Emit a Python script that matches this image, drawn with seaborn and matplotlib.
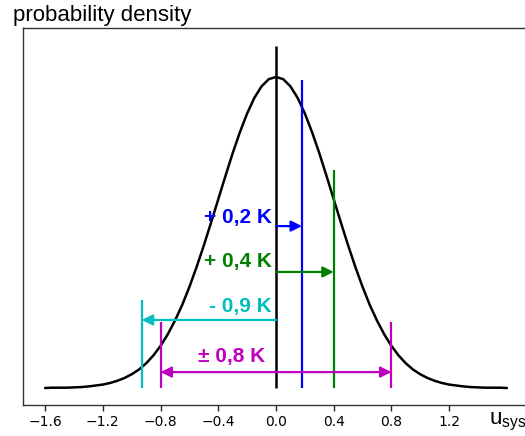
import numpy as np
import seaborn as sns
import matplotlib
matplotlib.use('Agg')
import matplotlib.pyplot as plt

# curve (sigma ~0.4 K), step 0.05
u = [-1.60, -1.55, -1.50, -1.45, -1.40, -1.35, -1.30, -1.25, -1.20, -1.15, -1.10,
     -1.05, -1.00, -0.95, -0.90, -0.85, -0.80, -0.75, -0.70, -0.65, -0.60, -0.55,
     -0.50, -0.45, -0.40, -0.35, -0.30, -0.25, -0.20, -0.15, -0.10, -0.05, 0.00,
     0.05, 0.10, 0.15, 0.20, 0.25, 0.30, 0.35, 0.40, 0.45, 0.50, 0.55, 0.60,
     0.65, 0.70, 0.75, 0.80, 0.85, 0.90, 0.95, 1.00, 1.05, 1.10, 1.15, 1.20,
     1.25, 1.30, 1.35, 1.40, 1.45, 1.50, 1.55, 1.60]
density = [0.000, 0.001, 0.001, 0.001, 0.002, 0.003, 0.005, 0.008, 0.011, 0.016, 0.023,
           0.032, 0.044, 0.059, 0.079, 0.104, 0.135, 0.172, 0.216, 0.266, 0.324, 0.388,
           0.457, 0.530, 0.605, 0.680, 0.753, 0.820, 0.880, 0.930, 0.967, 0.990, 0.997,
           0.990, 0.967, 0.930, 0.880, 0.820, 0.753, 0.680, 0.605, 0.530, 0.457, 0.388,
           0.324, 0.266, 0.216, 0.172, 0.135, 0.104, 0.079, 0.059, 0.044, 0.032, 0.023,
           0.016, 0.011, 0.008, 0.005, 0.003, 0.002, 0.001, 0.001, 0.001, 0.000]

# shifts and their markers
labels = ['+ 0,2 K', '+ 0,4 K', '- 0,9 K', '\u00b1 0,8 K']
shifts = [0.18, 0.40, -0.93, 0.80]
colors = ['#0000ff', '#008000', '#00bfbf', '#bf00bf']
line_tops = [0.987, 0.699, 0.282, 0.212]
arrow_y = [0.519, 0.372, 0.218, 0.051]
label_y = [0.548, 0.404, 0.260, 0.100]
ticks = [-1.6, -1.2, -0.8, -0.4, 0.0, 0.4, 0.8, 1.2]

sns.set_style('ticks')
plt.rcParams['mathtext.fontset'] = 'custom'
plt.rcParams['mathtext.rm'] = 'Liberation Sans'

fig = plt.figure(figsize=(5.25, 4.36), dpi=100)
ax = fig.add_axes([23 / 525, 31 / 436, 537 / 525, 377 / 436])

sns.lineplot(x=u, y=density, color='black', lw=1.8, ax=ax)
ax.vlines(0, 0, 1.096, color='black', lw=1.8)

for lab, s, c, top, ay, ly in zip(labels, shifts, colors, line_tops, arrow_y, label_y):
    ax.vlines(s, 0, top, color=c, lw=1.6)
    if lab.startswith('\u00b1'):
        ax.vlines(-s, 0, top, color=c, lw=1.6)
        ax.annotate('', xy=(s, ay), xytext=(-s, ay),
                    arrowprops=dict(arrowstyle='<|-|>', color=c, lw=1.6,
                                    mutation_scale=16, shrinkA=0, shrinkB=0))
        ax.text(-0.075, ly, lab, color=c, fontsize=15, fontweight='bold',
                family='Liberation Sans', ha='right', va='center')
    else:
        ax.annotate('', xy=(s, ay), xytext=(0, ay),
                    arrowprops=dict(arrowstyle='-|>', color=c, lw=1.6,
                                    mutation_scale=16, shrinkA=0, shrinkB=0))
        ax.text(-0.03, ly, lab, color=c, fontsize=15, fontweight='bold',
                family='Liberation Sans', ha='right', va='center')

ax.set_xlim(-1.753, 1.968)
ax.set_ylim(-0.0545, 1.154)
ax.set_yticks([])
ax.set_xticks(ticks)
ax.set_xticklabels([f'{t:.1f}'.replace('-', '\u2212') for t in ticks])
ax.tick_params(axis='x', labelsize=10, length=4, width=1, labelcolor='black')
for sp in ax.spines.values():
    sp.set_color('#333333')
    sp.set_linewidth(1.0)

fig.text(13 / 525, 1 - 15 / 436, 'probability density', fontsize=16, color='black',
         family='Liberation Sans', ha='left', va='center')
fig.text(489 / 525, 1 - 424 / 436, r'u$_{\mathrm{sys}}$', fontsize=16, color='black',
         family='Liberation Sans', ha='left', va='baseline')

fig.savefig('out.png', dpi=100)
